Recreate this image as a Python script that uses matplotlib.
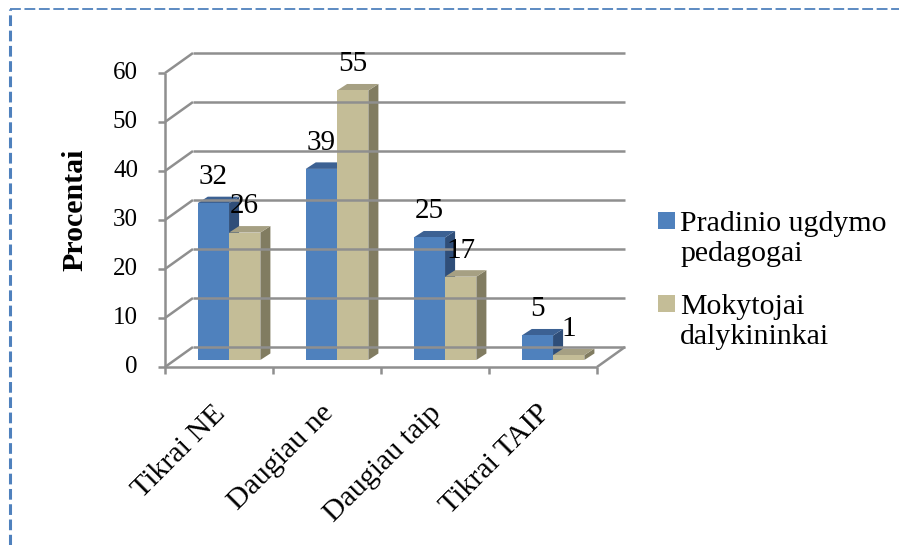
import matplotlib.pyplot as plt
from matplotlib.patches import Polygon, Rectangle
from matplotlib.lines import Line2D

categories = ["Tikrai NE", "Daugiau ne", "Daugiau taip", "Tikrai TAIP"]
series_names = ["Pradinio ugdymo\npedagogai", "Mokytojai\ndalykininkai"]
pradinio = [32, 39, 25, 5]
mokytojai = [26, 55, 17, 1]
yticks = [0, 10, 20, 30, 40, 50, 60]

# face colours: front, top, side
blue = ("#4F81BD", "#3C6193", "#2F4E79")
tan = ("#C4BD97", "#A6A083", "#817C61")
grid_c = "#8f8f8f"

serif = "Liberation Serif"

fig = plt.figure(figsize=(8.99, 5.45), dpi=100)

# dashed frame (top and left edges only)
fig.add_artist(Line2D([10/899, 1], [1-9/545, 1-9/545], color="#4F81BD",
                      lw=1.3, ls=(0, (6, 2))))
fig.add_artist(Line2D([10/899, 10/899], [0, 1-9/545], color="#4F81BD",
                      lw=2.2, ls=(0, (3.5, 1.5))))

# front plane of the 3-D box: x in category units, y in percent
ax = fig.add_axes([165/899, (545-367)/545, 432/899, 294/545])
ax.set_xlim(0, 4)
ax.set_ylim(0, 60)
ax.axis("off")

D = (0.259, 4.08)     # wall depth offset
B0 = (0.093, 1.43)    # bar front plane offset
d = (0.093, 1.33)     # bar depth
bw = 0.29             # bar width
n = len(categories)

def line(xs, ys, **kw):
    ax.plot(xs, ys, color=grid_c, lw=1.8, clip_on=False,
            solid_capstyle="butt", **kw)

# back wall gridlines and left wall diagonals
for v in yticks:
    line([D[0], n + D[0]], [v + D[1], v + D[1]])
    line([0, D[0]], [v, v + D[1]])
# floor right edge
line([n, n + D[0]], [0, D[1]])

def bar3d(x0, h, cols):
    fx, fy = x0 + B0[0], B0[1]
    top = [(fx, fy + h), (fx + bw, fy + h),
           (fx + bw + d[0], fy + h + d[1]), (fx + d[0], fy + h + d[1])]
    side = [(fx + bw, fy), (fx + bw + d[0], fy + d[1]),
            (fx + bw + d[0], fy + h + d[1]), (fx + bw, fy + h)]
    ax.add_patch(Polygon(side, closed=True, fc=cols[2], ec="none", clip_on=False))
    ax.add_patch(Polygon(top, closed=True, fc=cols[1], ec="none", clip_on=False))
    ax.add_patch(Rectangle((fx, fy), bw, h, fc=cols[0], ec="none", clip_on=False))
    ax.text(fx + bw / 2, fy + h + 3.9, str(h), ha="center", va="baseline",
            family=serif, fontsize=21, clip_on=False)

for i in range(n):
    left = i + (1 - 2 * bw) / 2
    bar3d(left, pradinio[i], blue)
    bar3d(left + bw, mokytojai[i], tan)

# front axes with ticks
line([0, 0], [0, 60])
line([0, n], [0, 0])
for v in yticks:
    line([-0.065, 0], [v, v])
    ax.text(-0.25, v, str(v), ha="right", va="center", family=serif,
            fontsize=18, clip_on=False)
for i in range(n + 1):
    line([i, i], [0, -1.4])

for i, c in enumerate(categories):
    ax.text(i + 0.44, -6.8, c, rotation=45, rotation_mode="anchor",
            ha="right", va="top", family=serif, fontsize=21.5, clip_on=False)

fig.text(75/899, 1 - 210/545, "Procentai", rotation=90, ha="center",
         va="center", family=serif, fontsize=21.5, fontweight="bold")

# legend
leg_items = [(series_names[0], blue[0], 212), (series_names[1], tan[0], 295)]
for name, col, ytop in leg_items:
    fig.add_artist(Rectangle((658/899, 1 - (ytop + 17)/545), 17/899, 17/545,
                             fc=col, ec="none", transform=fig.transFigure))
    fig.text(680/899, 1 - (ytop - 1)/545, name, ha="left", va="top",
             family=serif, fontsize=21.5, linespacing=1.2)

fig.savefig("out.png", dpi=100)
